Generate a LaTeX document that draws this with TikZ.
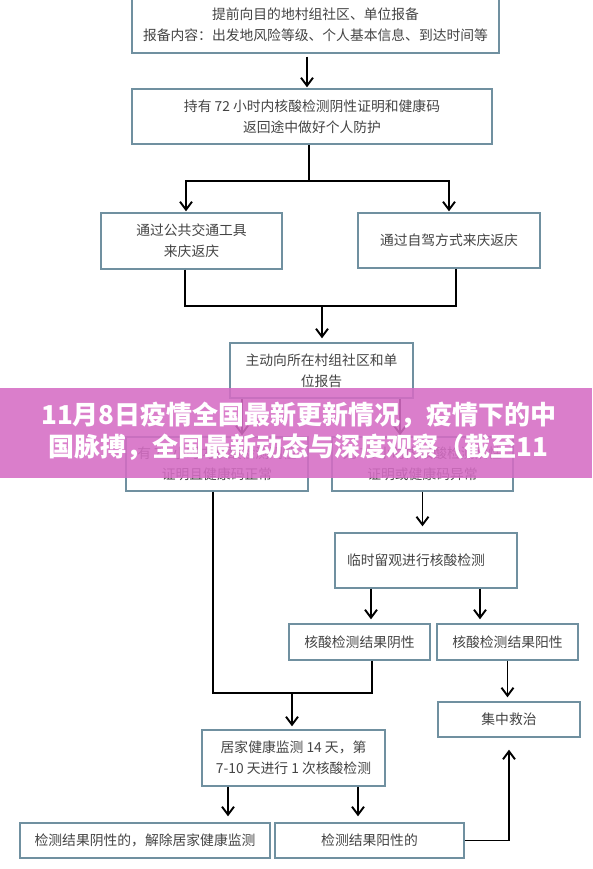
\documentclass[tikz,border=0pt]{standalone}
\usepackage{fontspec}
\newfontfamily\cjk{Noto Sans CJK SC}
\usetikzlibrary{arrows.meta,positioning}
\definecolor{edge}{HTML}{7090A0}
\definecolor{ink}{HTML}{444444}
\definecolor{banner}{HTML}{D56CC4}
\tikzset{box/.style={draw=edge,line width=1.4pt,fill=white,align=center,text=ink,inner sep=0pt,font=\cjk\fontsize{13.8}{21}\selectfont},arr/.style={-{Straight Barb[length=8pt,width=12pt]},line width=1.9pt,shorten >=1pt},ln/.style={line width=1.9pt},title/.style={text=white,font=\cjk\bfseries\fontsize{26}{30}\selectfont,inner sep=0pt}}

\begin{document}
\begin{tikzpicture}[x=1pt,y=-1pt]
\useasboundingbox (0,0) rectangle (592,869);
\clip (0,0) rectangle (592,869);
\node[box,minimum width=367pt,minimum height=57pt] (plan) at (315.5,24.5) {提前向目的地村组社区、单位报备\\报备内容：出发地风险等级、个人基本信息、到达时间等};
\node[box,minimum width=360pt,minimum height=55pt] (hold) at (312,116.5) {持有 72 小时内核酸检测阴性证明和健康码\\返回途中做好个人防护};
\node[box,minimum width=181pt,minimum height=56pt] (bus) at (191.5,241) {通过公共交通工具\\来庆返庆};
\node[box,minimum width=182pt,minimum height=55pt] (car) at (449,240.5) {通过自驾方式来庆返庆};
\node[box,minimum width=183pt,minimum height=55pt] (report) at (321.5,370.5) {主动向所在村组社区和单\\位报告};
\node[box,minimum width=182pt,minimum height=54pt] (okcode) at (217,464) {有 72 小时内核酸检测阴性\\证明且健康码正常};
\node[box,minimum width=181pt,minimum height=54pt] (badcode) at (422.5,464) {无 72 小时内核酸检测阴性\\证明或健康码异常};
\node[box,minimum width=182pt,minimum height=55pt] (observe) at (426,560.5) {临时留观进行核酸检测\hspace{20pt}};
\node[box,minimum width=141pt,minimum height=36pt] (neg) at (359.5,642) {核酸检测结果阴性};
\node[box,minimum width=141pt,minimum height=36pt] (pos) at (507.5,642) {核酸检测结果阳性};
\node[box,minimum width=142pt,minimum height=35pt] (treat) at (509,719.5) {集中救治};
\node[box,minimum width=183pt,minimum height=56pt] (home) at (293.5,758) {居家健康监测 14 天，第\\7-10 天进行 1 次核酸检测};
\node[box,minimum width=250pt,minimum height=35pt] (clear) at (145,840.5) {检测结果阴性的，解除居家健康监测};
\node[box,minimum width=189pt,minimum height=35pt] (posh) at (369.5,840.5) {检测结果阳性的};
\coordinate (fork) at (309,181);
\coordinate (merge) at (322,306);
\coordinate (join) at (292,693);
\draw[arr,shorten <=3pt] ([xshift=-8.5pt]plan.south) -- ([xshift=-5pt]hold.north);
\draw[ln] ([xshift=-3pt]hold.south) -- (fork);
\draw[arr] (fork) -| ([xshift=-5.5pt]bus.north);
\draw[arr] (fork) -| (car.north);
\draw[ln] ([xshift=-6.5pt]bus.south) |- (merge);
\draw[ln] ([xshift=7pt]car.south) |- (merge);
\draw[arr,shorten >=4pt] (merge) -- (report.north -| merge);
\draw[arr] ([xshift=-79.5pt]report.south) -- ([xshift=25pt]okcode.north);
\draw[arr] ([xshift=78.5pt]report.south) -- ([xshift=-22.5pt]badcode.north);
\draw[arr,shorten >=6pt] (badcode.south) -- (badcode.south |- observe.north);
\draw[arr,shorten >=4pt] ([xshift=-55pt]observe.south) -- ([xshift=11.5pt]neg.north);
\draw[arr,shorten >=4pt] ([xshift=54pt]observe.south) -- ([xshift=-27.5pt]pos.north);
\draw[arr,shorten >=4pt] (pos.south) -- (pos.south |- treat.north);
\draw[ln] ([xshift=-4pt]okcode.south) |- (join);
\draw[ln] ([xshift=12.5pt]neg.south) |- (join);
\draw[arr,shorten >=3pt] (join) -- (home.north -| join);
\draw[arr,shorten >=6pt] ([xshift=-65.5pt]home.south) -- ([xshift=83pt]clear.north);
\draw[arr,shorten >=6pt] ([xshift=64.5pt]home.south) -- ([xshift=-11.5pt]posh.north);
\draw[arr,shorten >=12pt] (posh.east) -| (treat.south);
\fill[banner,opacity=0.88] (0,388) rectangle (592,478);
\node[title] (head1) at (299,415) {11月8日疫情全国最新更新情况，疫情下的中};
\node[title] (head2) at (298,447) {国脉搏，全国最新动态与深度观察（截至11};
\end{tikzpicture}
\end{document}
